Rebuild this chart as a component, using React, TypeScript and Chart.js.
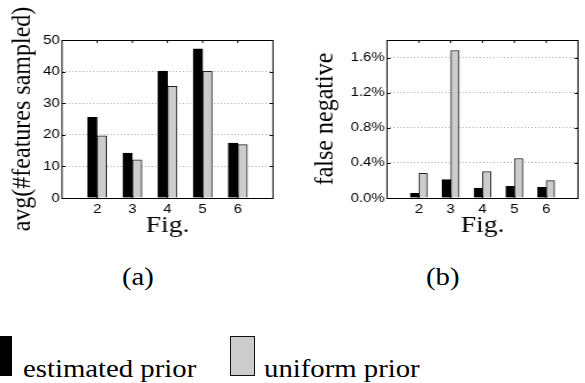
import React, { useEffect, useRef } from "react";
import { Chart, registerables } from "chart.js";

Chart.register(...registerables);

const categories = [2, 3, 4, 5, 6];
const estimatedA = [25.5, 14.2, 40.2, 47.2, 17.4];
const uniformA = [19.7, 12.1, 35.3, 40.1, 16.9];
const estimatedB = [0.053, 0.21, 0.114, 0.133, 0.122];
const uniformB = [0.28, 1.68, 0.3, 0.45, 0.198];
const yTicksA = [0, 10, 20, 30, 40, 50];
const yTicksB = [0, 0.4, 0.8, 1.2, 1.6];

const SANS = "'Liberation Sans', Arial, sans-serif";
const SERIF = "'Liberation Serif', 'Times New Roman', serif";
// the reference figure is stretched horizontally
const S = 1.15;

const framePlugin = {
  id: "frame",
  afterDatasetsDraw(chart: any) {
    const { ctx, chartArea } = chart;
    const { left, right, top, bottom } = chartArea;
    ctx.save();
    ctx.strokeStyle = "#000";
    ctx.lineWidth = 1;
    ctx.strokeRect(left, Math.round(top) + 0.5, right - left, Math.round(bottom - top));
    const xs = chart.scales.x;
    const ys = chart.scales.y;
    ctx.beginPath();
    xs.ticks.forEach((t: any) => {
      const px = xs.getPixelForValue(t.value);
      ctx.moveTo(px, bottom);
      ctx.lineTo(px, bottom - 3);
      ctx.moveTo(px, top);
      ctx.lineTo(px, top + 3);
    });
    ys.ticks.forEach((t: any) => {
      const py = Math.round(ys.getPixelForValue(t.value)) + 0.5;
      ctx.moveTo(left, py);
      ctx.lineTo(left + 3, py);
      ctx.moveTo(right, py);
      ctx.lineTo(right - 3, py);
    });
    ctx.stroke();
    ctx.restore();
  },
};

function makeConfig(opts: {
  est: number[];
  uni: number[];
  yMax: number;
  yTicks: number[];
  yTitle: string;
  yWidth: number;
  padTop: number;
  padRight: number;
  titlePad: number;
  barThickness: number;
  fmt: (v: number) => string;
}) {
  return {
    type: "bar" as const,
    data: {
      datasets: [
        {
          label: "estimated prior",
          data: categories.map((c, i) => ({ x: c, y: opts.est[i] })),
          backgroundColor: "#000",
          borderColor: "#000",
          borderWidth: 1,
          barThickness: opts.barThickness,
        },
        {
          label: "uniform prior",
          data: categories.map((c, i) => ({ x: c, y: opts.uni[i] })),
          backgroundColor: "#cccccc",
          borderColor: "#222",
          borderWidth: 1,
          barThickness: opts.barThickness,
        },
      ],
    },
    options: {
      responsive: false,
      animation: false,
      devicePixelRatio: 1,
      layout: { padding: { top: opts.padTop, right: opts.padRight, left: 0, bottom: 0 } },
      plugins: { legend: { display: false }, tooltip: { enabled: false } },
      scales: {
        x: {
          type: "linear",
          min: 1,
          max: 7,
          offset: false,
          grid: { display: false, offset: false, drawTicks: false },
          border: { display: false },
          afterBuildTicks: (s: any) => {
            s.ticks = categories.map((v) => ({ value: v }));
          },
          afterFit: (s: any) => {
            s.height = 52;
          },
          ticks: {
            color: "#000",
            font: { family: SANS, size: 13 },
            padding: 4,
            maxRotation: 0,
            callback: (v: any) => String(v),
          },
          title: {
            display: true,
            text: "Fig.",
            color: "#000",
            font: { family: SERIF, size: 24 },
            padding: { top: 0, bottom: 9.6 },
          },
        },
        y: {
          type: "linear",
          min: 0,
          max: opts.yMax,
          afterBuildTicks: (s: any) => {
            s.ticks = opts.yTicks.map((v) => ({ value: v }));
          },
          afterFit: (s: any) => {
            s.width = opts.yWidth;
          },
          grid: { display: true, color: "#aaaaaa", lineWidth: 1, drawTicks: false },
          border: { display: false, dash: [1, 2] },
          ticks: {
            color: "#000",
            font: { family: SANS, size: 13 },
            padding: 2,
            callback: (v: any) => opts.fmt(Number(v)),
          },
          title: {
            display: true,
            text: opts.yTitle,
            color: "#000",
            font: { family: SERIF, size: 24 },
            padding: { top: opts.titlePad, bottom: 0 },
          },
        },
      },
    },
    plugins: [framePlugin],
  };
}

function BarChart(props: { config: any; left: number; width: number; height: number }) {
  const ref = useRef<HTMLCanvasElement>(null);
  useEffect(() => {
    if (!ref.current) return;
    const chart = new Chart(ref.current, props.config);
    return () => chart.destroy();
  }, []);
  return (
    <canvas
      ref={ref}
      width={props.width}
      height={props.height}
      style={{
        position: "absolute",
        left: props.left,
        top: 0,
        width: props.width,
        height: props.height,
        transform: `scaleX(${S})`,
        transformOrigin: "0 0",
      }}
    />
  );
}

const labelStyle: React.CSSProperties = {
  position: "absolute",
  fontFamily: SERIF,
  fontSize: 25,
  lineHeight: "25px",
  color: "#000",
  whiteSpace: "nowrap",
  transform: `scaleX(${S})`,
  transformOrigin: "0 0",
};

export default function App() {
  const WA = 252;
  const WB = 257;
  const configA = makeConfig({
    est: estimatedA,
    uni: uniformA,
    yMax: 50,
    yTicks: yTicksA,
    yTitle: "avg(#features sampled)",
    yWidth: 62 / S,
    padTop: 40,
    padRight: WA - 273 / S,
    titlePad: 23 / S - 14.4,
    barThickness: 9.5 / S,
    fmt: (v) => String(v),
  });
  const configB = makeConfig({
    est: estimatedB,
    uni: uniformB,
    yMax: 1.8,
    yTicks: yTicksB,
    yTitle: "false negative",
    yWidth: 97 / S,
    padTop: 40,
    padRight: WB - 288 / S,
    titlePad: 35 / S - 14.4,
    barThickness: 8.5 / S,
    fmt: (v) => v.toFixed(1) + "%",
  });
  return (
    <div style={{ position: "absolute", left: 0, top: 0, width: 585, height: 383, background: "#fff", overflow: "hidden" }}>
      <BarChart config={configA} left={0} width={WA} height={250} />
      <BarChart config={configB} left={290} width={WB} height={250} />
      <div style={{ ...labelStyle, left: 122, top: 264 }}>(a)</div>
      <div style={{ ...labelStyle, left: 426, top: 264 }}>(b)</div>
      <div style={{ position: "absolute", left: 0, top: 336, width: 12, height: 40, background: "#000" }} />
      <div style={{ ...labelStyle, left: 23, top: 356 }}>estimated prior</div>
      <div
        style={{
          position: "absolute",
          left: 230,
          top: 336,
          width: 25,
          height: 40,
          background: "#cccccc",
          border: "1.5px solid #111",
          boxSizing: "border-box",
        }}
      />
      <div style={{ ...labelStyle, left: 264, top: 356 }}>uniform prior</div>
    </div>
  );
}
